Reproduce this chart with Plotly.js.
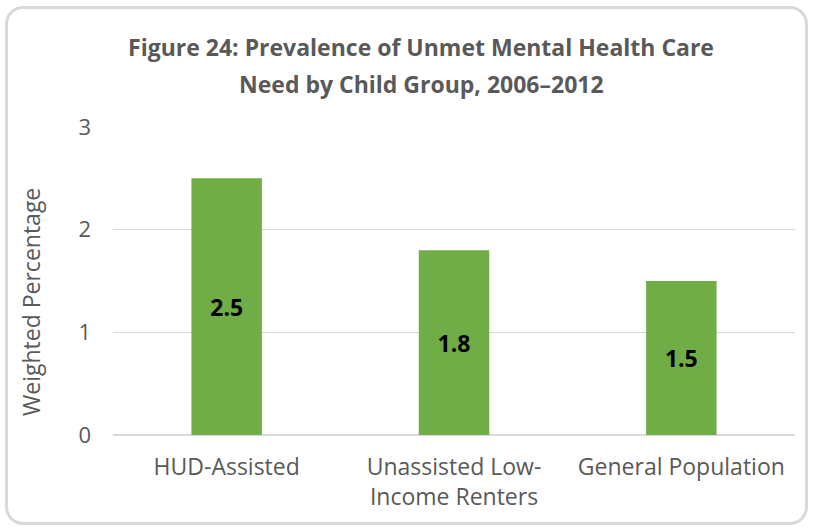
<!DOCTYPE html>
<html>
<head>
<meta charset="utf-8">
<script src="https://cdn.plot.ly/plotly-3.0.1.min.js"></script>
<style>
  html, body { margin: 0; padding: 0; background: #ffffff; }
  #wrap { position: relative; width: 813px; height: 531px; }
  #chart { position: absolute; left: 0; top: 0; width: 813px; height: 531px; }
  #frame { position: absolute; left: 5px; top: 6px; width: 803px; height: 519px; box-sizing: border-box;
           border: 3px solid #d9d9d9; border-radius: 18px; pointer-events: none; }
</style>
</head>
<body>
<div id="wrap">
  <div id="chart"></div>
  <div id="frame"></div>
</div>
<script>
const categories = ["HUD-Assisted", "Unassisted Low-<br>Income Renters", "General Population"];
const values = [2.5, 1.8, 1.5];
const valueLabels = ["2.5", "1.8", "1.5"];
const yTicks = [0, 1, 2, 3];
const titleLine1 = "Figure 24: Prevalence of Unmet Mental Health Care";
const titleLine2 = "Need by Child Group, 2006\u20132012";
const yTitle = "Weighted Percentage";

const FONT = "Open Sans, Noto Sans, sans-serif";
const GREY = "#595959";

const trace = {
  type: "bar",
  x: categories,
  y: values,
  text: valueLabels,
  texttemplate: "%{text}",
  textposition: "inside",
  insidetextanchor: "middle",
  textangle: 0,
  constraintext: "none",
  textfont: { family: FONT, size: 23, color: "#000000", weight: "bold" },
  marker: { color: "#70AD47", line: { width: 0 } },
  hoverinfo: "none"
};

const layout = {
  width: 813,
  height: 531,
  margin: { l: 113, r: 18, t: 127, b: 96, pad: 0 },
  paper_bgcolor: "rgba(0,0,0,0)",
  plot_bgcolor: "rgba(0,0,0,0)",
  bargap: 0.69,
  showlegend: false,
  font: { family: FONT, color: GREY },
  title: {
    text: "<b>" + titleLine1 + "</b>",
    font: { family: FONT, size: 23, color: GREY },
    x: 421 / 813, xanchor: "center", xref: "container",
    y: 1 - 48 / 531, yanchor: "middle", yref: "container"
  },
  annotations: [
    {
      text: "<b>" + titleLine2 + "</b>",
      xref: "paper", yref: "paper",
      x: (421 - 113) / 682, xanchor: "center",
      y: 1 + (127 - 84) / 308, yanchor: "middle",
      showarrow: false,
      font: { family: FONT, size: 23, color: GREY }
    },
    {
      text: yTitle,
      xref: "paper", yref: "paper",
      x: (31 - 113) / 682, xanchor: "center",
      y: (435 - 302) / 308, yanchor: "middle",
      textangle: -90,
      showarrow: false,
      font: { family: FONT, size: 23, color: GREY }
    }
  ],
  xaxis: {
    type: "category",
    showgrid: false,
    showline: false,
    ticks: "",
    tickfont: { family: FONT, size: 23, color: GREY },
    ticklabelstandoff: 16,
    fixedrange: true
  },
  yaxis: {
    range: [0, 3],
    tickvals: yTicks,
    ticktext: yTicks.map(String),
    showgrid: true,
    gridcolor: "#d9d9d9",
    gridwidth: 1.3,
    zeroline: true,
    zerolinecolor: "#d9d9d9",
    zerolinewidth: 1.5,
    showline: false,
    ticks: "",
    tickfont: { family: FONT, size: 22, color: GREY },
    ticklabelstandoff: 21,
    fixedrange: true
  }
};

Plotly.newPlot("chart", [trace], layout, { displayModeBar: false, staticPlot: true });
</script>
</body>
</html>
